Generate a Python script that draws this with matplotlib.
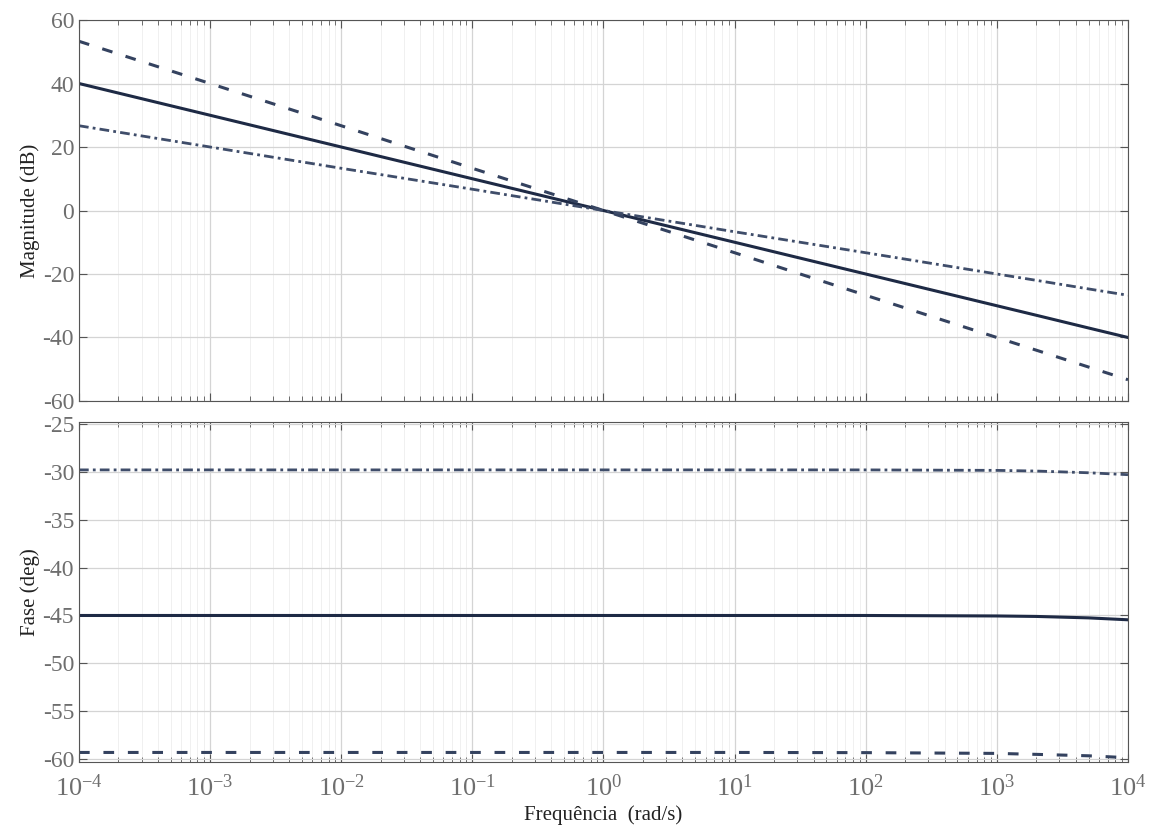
import matplotlib
matplotlib.use('Agg')
import matplotlib.pyplot as plt
import numpy as np

plt.rcParams['font.family'] = ['Liberation Serif', 'DejaVu Serif']
plt.rcParams['mathtext.fontset'] = 'custom'
plt.rcParams['mathtext.rm'] = 'Liberation Serif'
plt.rcParams['mathtext.it'] = 'Liberation Serif:italic'
plt.rcParams['axes.unicode_minus'] = False

# frequency samples (rad/s)
w = [1e-4, 1e-3, 1e-2, 1e-1, 1e0, 1e1, 1e2, 1e3, 2e3, 5e3, 1e4]

# magnitude (dB) of the three fractional-order integrators
mag_half = [40, 30, 20, 10, 0, -10, -20, -30, -33, -37, -40]
mag_twothirds = [53.3, 40, 26.7, 13.3, 0, -13.3, -26.7, -40, -44, -49.3, -53.3]
mag_third = [26.7, 20, 13.3, 6.7, 0, -6.7, -13.3, -20, -22, -24.7, -26.7]

# phase (deg)
ph_half = [-45, -45, -45, -45, -45, -45, -45, -45.05, -45.1, -45.25, -45.45]
ph_twothirds = [-59.3, -59.3, -59.3, -59.3, -59.3, -59.3, -59.32, -59.4, -59.5, -59.65, -59.85]
ph_third = [-29.8, -29.8, -29.8, -29.8, -29.8, -29.8, -29.8, -29.85, -29.92, -30.1, -30.3]

c_solid = '#1e2a45'
c_dash = '#34425f'
c_dashdot = '#3f4d6a'

fig = plt.figure(figsize=(11.53, 8.34), dpi=100)
ax1 = fig.add_axes([0.0685, 0.5192, 0.9098, 0.4568])
ax2 = fig.add_axes([0.0685, 0.0863, 0.9098, 0.4077])

for ax in (ax1, ax2):
    ax.set_xscale('log')
    ax.set_xlim(1e-4, 1e4)
    ax.grid(True, which='major', color='#d4d4d4', lw=0.9)
    ax.grid(True, which='minor', color='#f0f0f0', lw=0.7)
    ax.tick_params(which='both', direction='in', top=True, right=True,
                   colors='#555555', labelcolor='#6e6e6e', labelsize=17)
    ax.tick_params(which='major', length=6)
    ax.tick_params(which='minor', length=3.5)
    for s in ax.spines.values():
        s.set_color('#555555')
    ax.set_axisbelow(True)

ax1.plot(w, mag_half, '-', color=c_solid, lw=2.2)
ax1.plot(w, mag_twothirds, color=c_dash, lw=2.2, dashes=(3.5, 4.5))
ax1.plot(w, mag_third, color=c_dashdot, lw=2.0, dashes=(3.5, 1.5, 1, 1.5))
ax1.set_ylim(-60, 60)
ax1.set_yticks(np.arange(-60, 61, 20))
ax1.tick_params(labelbottom=False)
ax1.set_ylabel('Magnitude (dB)', fontsize=15, color='#222222', labelpad=2)

ax2.plot(w, ph_half, '-', color=c_solid, lw=2.2)
ax2.plot(w, ph_twothirds, color=c_dash, lw=2.2, dashes=(3.5, 4.5))
ax2.plot(w, ph_third, color=c_dashdot, lw=2.0, dashes=(3.5, 1.5, 1, 1.5))
ax2.set_ylim(-60.3, -24.8)
ax2.set_yticks(np.arange(-60, -24, 5))
ax2.set_xticks([10.0 ** k for k in range(-4, 5)])
ax2.tick_params(axis='x', which='major', pad=9, labelsize=19)
ax2.set_ylabel('Fase (deg)', fontsize=15, color='#222222', labelpad=2)
ax2.set_xlabel('Frequência  (rad/s)', fontsize=15, color='#222222', labelpad=3)

fig.savefig('out.png', dpi=100)
